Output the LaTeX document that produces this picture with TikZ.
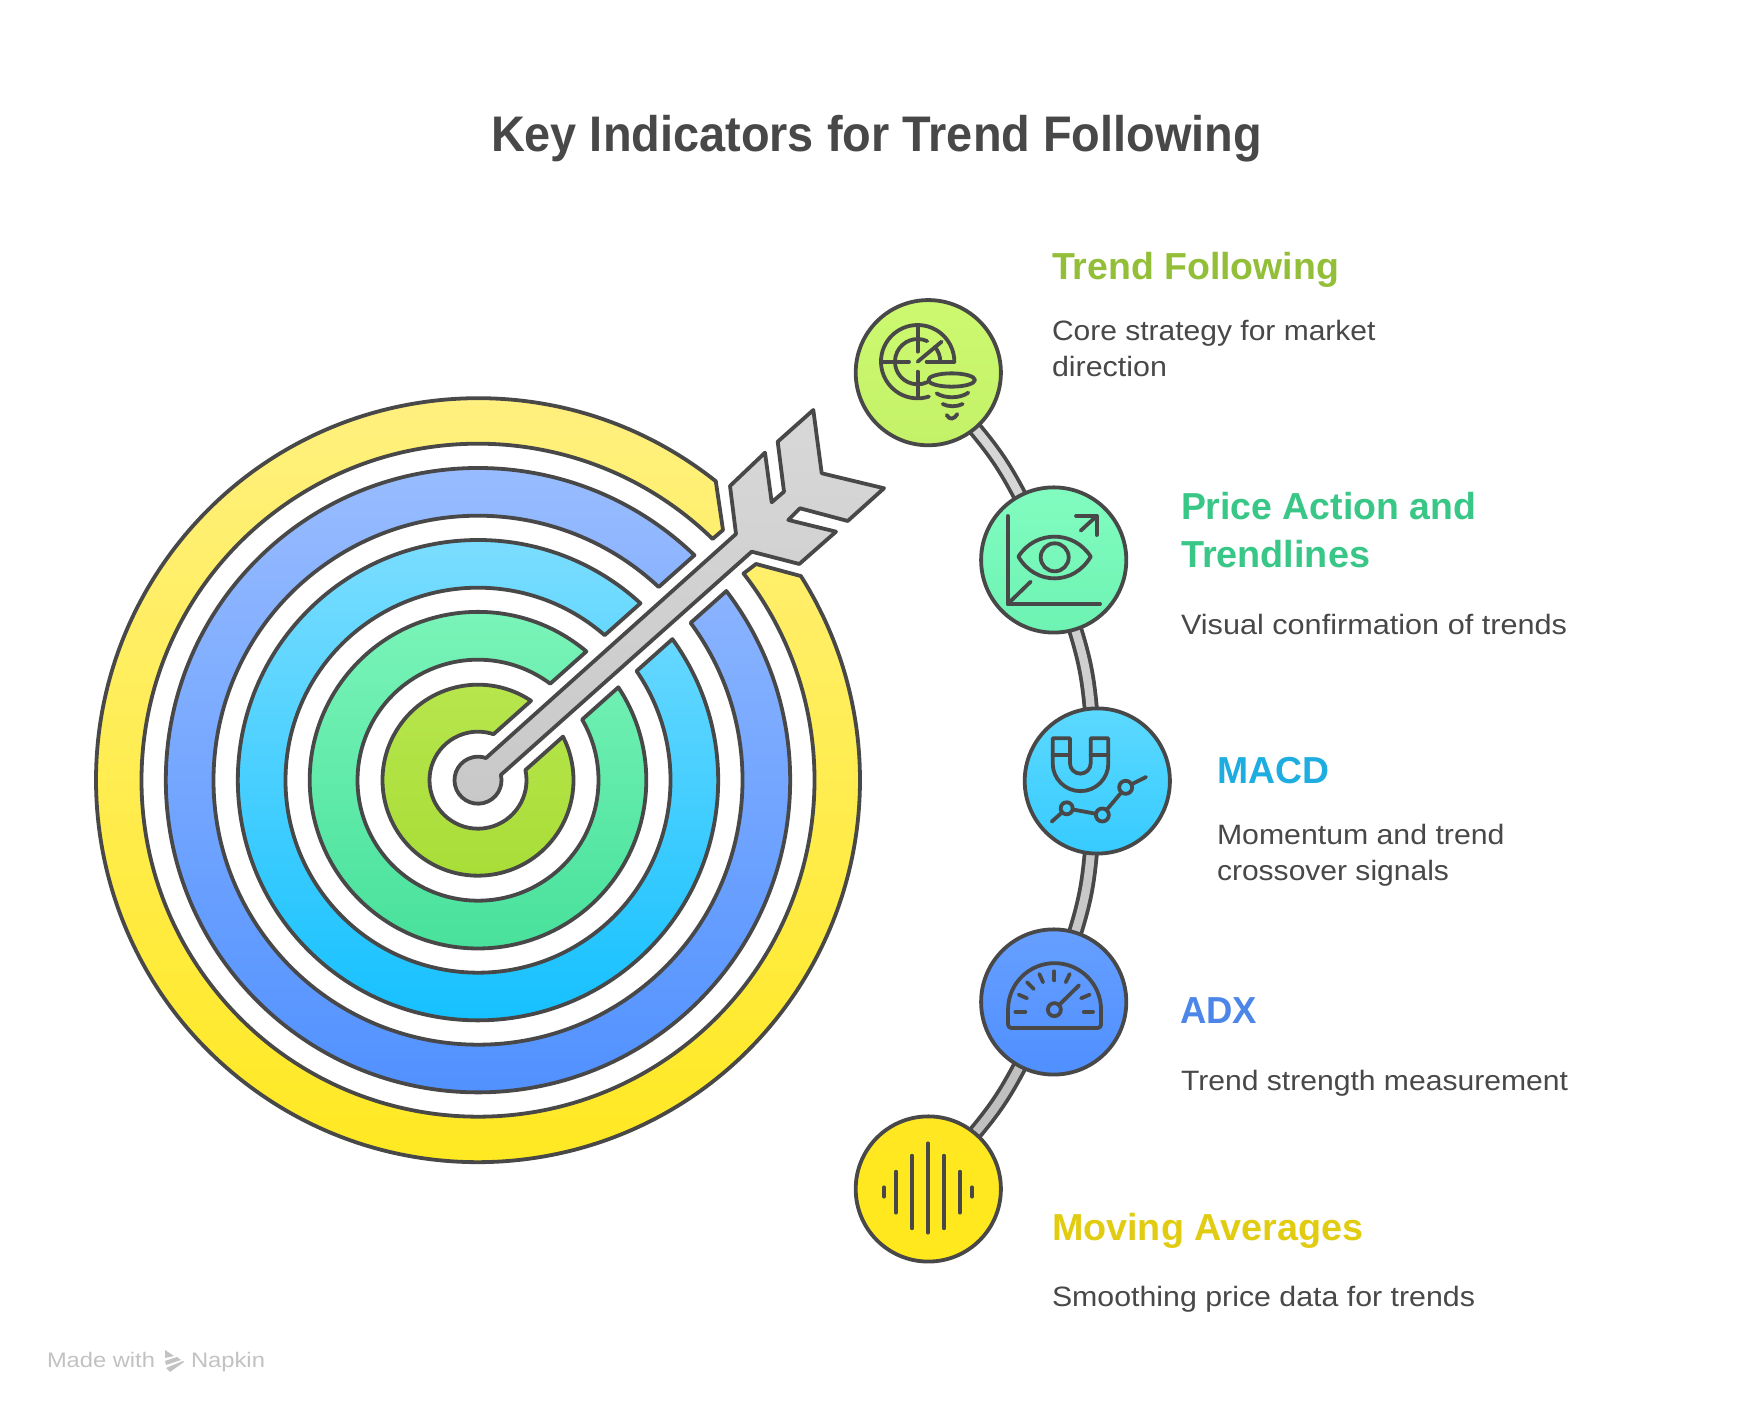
\documentclass[tikz,border=0pt]{standalone}
\usepackage{graphicx}
\usepackage{fontspec}
\setmainfont{Liberation Sans}
\usetikzlibrary{calc}
\pgfdeclarelayer{conn}
\pgfsetlayers{conn,main}
\definecolor{ink}{HTML}{484848}
\definecolor{footgray}{HTML}{C2C2C2}
\definecolor{h1}{HTML}{92BF37}
\definecolor{h2}{HTML}{38C786}
\definecolor{h3}{HTML}{1EADE0}
\definecolor{h4}{HTML}{4C86E8}
\definecolor{h5}{HTML}{E2CC12}
\definecolor{c1t}{HTML}{CCF96F}
\definecolor{c1b}{HTML}{C3F168}
\definecolor{c2t}{HTML}{82FCC0}
\definecolor{c2b}{HTML}{6DF3B3}
\definecolor{c3t}{HTML}{5CD9FF}
\definecolor{c3b}{HTML}{36CBFF}
\definecolor{c4t}{HTML}{669FFF}
\definecolor{c4b}{HTML}{4F8FFF}
\definecolor{c5t}{HTML}{FFE822}
\definecolor{c5b}{HTML}{FFE81C}
\definecolor{l1}{HTML}{D6D6D6}
\definecolor{l2}{HTML}{CFCFCF}
\definecolor{l3}{HTML}{C8C8C8}
\definecolor{l4}{HTML}{C0C0C0}
\newcommand{\fitw}[2]{\resizebox{\dimexpr #1pt/2\relax}{\height}{#2}}
\tikzset{
  outl/.style={draw=ink,line width=1.9pt,line join=round},
  iconline/.style={draw=ink,line width=1.9pt,line cap=round,line join=round},
  iconscope/.style={x=0.16667pt,y=0.16667pt},
  badge/.style={circle,minimum size=72.6pt,inner sep=0pt,outer sep=0pt,draw=ink,line width=1.9pt},
  link/.style={draw=ink,line width=1.9pt,double=#1,double distance=4.2pt},
  dot/.style={circle,draw=ink,line width=1.9pt,inner sep=0pt,outer sep=0pt,minimum size=#1},
  lab/.style={anchor=base west,inner sep=0pt,outer sep=0pt},
  headlab/.style={lab,font=\fontsize{18.8pt}{22pt}\selectfont\bfseries},
  bodylab/.style={lab,font=\fontsize{14pt}{17pt}\selectfont,text=ink},
  footlab/.style={lab,font=\fontsize{10.5pt}{12pt}\selectfont,text=footgray},
}
\begin{document}
\begin{tikzpicture}[x=0.5pt,y=0.5pt]
\useasboundingbox (0,0) rectangle (1750,1416);
\begin{pgfonlayer}{conn}
\fill[white] (0,0) rectangle (1750,1416);
\end{pgfonlayer}

% title
\node[lab,font=\fontsize{25pt}{30pt}\selectfont\bfseries,text=ink] (title) at (491,1264) {\fitw{771}{Key Indicators for Trend Following}};

% target
\begin{scope}[shift={(478,635.8)}]
\def\ang{41.7}
\foreach \ri/\ro/\ct/\cb in {48.5/95.5/B7E64E/A8DD36,120.5/168.3/7DF5BA/45E09A,192.5/240.2/80DFFF/10BFFF,264.5/312.2/9CBEFF/4D8FFF}{
  \pgfmathsetmacro{\ao}{asin(24/\ro)}
  \pgfmathsetmacro{\ai}{asin(24/\ri)}
  \definecolor{ringtop}{HTML}{\ct}
  \definecolor{ringbot}{HTML}{\cb}
  \path[outl,top color=ringtop,bottom color=ringbot]
    (\ang+\ao:\ro) arc[start angle=\ang+\ao,end angle=360+\ang-\ao,radius=\ro]
    -- (\ang-\ai:\ri) arc[start angle=360+\ang-\ai,end angle=\ang+\ai,radius=\ri] -- cycle;
}
\definecolor{ringtop}{HTML}{FFF185}
\definecolor{ringbot}{HTML}{FFE81C}
\path[outl,top color=ringtop,bottom color=ringbot]
  (51.5:382) arc[start angle=51.5,end angle=392.3,radius=382]
  -- (278,216.2) -- (37.9:336.5) arc[start angle=397.9,end angle=45.8,radius=336.5]
  -- (245,250.2) -- cycle;
% arrow
\definecolor{ringtop}{HTML}{D8D8D8}
\definecolor{ringbot}{HTML}{C8C8C8}
\path[outl,top color=ringtop,bottom color=ringbot]
  (70.3:23.5) -- (258,246.2) -- (252,294.2) -- (287,327.5) -- (293.7,277.9) -- (306,288.5)
  -- (299.7,338.5) -- (335.3,370.2) -- (343.7,306.9) -- (406,291.9) -- (369.7,259.2)
  -- (322,271.9) -- (310.3,260.2) -- (358,248.5) -- (321.3,216.2) -- (273.7,228.5)
  -- (13.1:23.5) arc[start angle=13.1,end angle=-289.7,radius=23.5] -- cycle;
\end{scope}

% badges
\node[badge,top color=c1t,bottom color=c1b] (c1) at (928.3,1043.3) {};
\node[badge,top color=c2t,bottom color=c2b] (c2) at (1053.7,856) {};
\node[badge,top color=c3t,bottom color=c3b] (c3) at (1097.3,635) {};
\node[badge,top color=c4t,bottom color=c4b] (c4) at (1053.7,414) {};
\node[badge,top color=c5t,bottom color=c5b] (c5) at (928.3,227) {};

% connectors
\begin{pgfonlayer}{conn}
\draw[link=l1] (c1) to[bend left=6] (c2);
\draw[link=l2] (c2) to[bend left=6] (c3);
\draw[link=l3] (c3) to[bend left=6] (c4);
\draw[link=l4] (c4) to[bend left=6] (c5);
\end{pgfonlayer}

% icon 1: radar and funnel
\begin{scope}[shift={(c1.center)},iconscope]
\begin{scope}[shift={(-32,33)}]
\draw[iconline] (110,0) arc[start angle=0,end angle=288,radius=110];
\draw[iconline] (65:68) arc[start angle=65,end angle=295,radius=68];
\draw[iconline] (41:68) arc[start angle=41,end angle=0,radius=68];
\draw[iconline] (0,110) -- (0,30);
\draw[iconline] (0,-30) -- (0,-107);
\draw[iconline] (-108,0) -- (-26,0);
\draw[iconline] (27,0) -- (110,0);
\draw[iconline] (0,0) -- (72,60);
\end{scope}
\draw[iconline] (70,-22) ellipse[x radius=70,y radius=20];
\draw[iconline] (25,-62) .. controls (50,-78) and (95,-78) .. (120,-60);
\draw[iconline] (43,-94) .. controls (60,-103) and (85,-103) .. (103,-94);
\draw[iconline] (55,-127) .. controls (65,-142) and (75,-142) .. (87,-124);
\end{scope}

% icon 2: eye on chart
\begin{scope}[shift={(c2.center)},iconscope]
\draw[iconline] (-138,132) -- (-138,-132) -- (139,-132);
\draw[iconline] (-138,-132) -- (-69,-65);
\draw[iconline] (81,88) -- (129,132);
\draw[iconline] (67,132) -- (129,132) -- (129,75);
\draw[iconline] (-106,10) .. controls (-55,90) and (60,90) .. (111,10) .. controls (60,-77) and (-55,-77) .. cycle;
\draw[iconline] (3,8) circle[radius=42];
\end{scope}

% icon 3: magnet and line chart
\begin{scope}[shift={(c3.center)},xshift=-1.15pt,iconscope]
\draw[iconline] (-127,128) -- (-127,53) arc[start angle=180,end angle=360,radius=83.5] -- (40,128) -- (-13,128) -- (-13,53) arc[start angle=0,end angle=-180,radius=31] -- (-75,128) -- cycle;
\draw[iconline] (-127,78) -- (-75,78);
\draw[iconline] (-13,78) -- (40,78);
\node[dot=6pt] (p1) at (-85,-82) {};
\node[dot=6.5pt] (p2) at (22,-102) {};
\node[dot=6.5pt] (p3) at (92,-19) {};
\coordinate (p0) at (-130,-122);
\coordinate (p4) at (153,12);
\draw[iconline] (p0) -- (p1);
\draw[iconline] (p1) -- (p2);
\draw[iconline] (p2) -- (p3);
\draw[iconline] (p3) -- (p4);
\end{scope}

% icon 4: gauge
\begin{scope}[shift={(c4.center)},iconscope]
\draw[iconline] (-137,-23) arc[start angle=180,end angle=0,radius=139.5] -- (142,-68) arc[start angle=0,end angle=-90,radius=10] -- (-127,-78) arc[start angle=-90,end angle=-180,radius=10] -- cycle;
\draw[iconline] (-115,-29) -- (-85,-29);
\draw[iconline] (90,-29) -- (118,-29);
\draw[iconline] (-105,22) -- (-80,11);
\draw[iconline] (-80,59) -- (-60,39);
\draw[iconline] (-43,84) -- (-32,59);
\draw[iconline] (2,92) -- (2,65);
\draw[iconline] (48,84) -- (36,59);
\draw[iconline] (108,22) -- (82,11);
\node[dot=6.5pt] (g1) at (2,-23) {};
\coordinate (g2) at (76,50);
\draw[iconline] (g1) -- (g2);
\end{scope}

% icon 5: sound bars
\begin{scope}[shift={(c5.center)},iconscope]
\foreach \bx/\bt/\bb in {-133/5/-23,-97/52/-71,-49/100/-118,-1/137/-131,47/100/-118,95/52/-71,131/5/-23}{
  \draw[iconline] (\bx,\bt) -- (\bx,\bb);
}
\end{scope}

% labels
\node[headlab,text=h1] (t1) at (1052,1136) {\fitw{287}{Trend Following}};
\node[bodylab] (d1a) at (1052,1075.3) {\fitw{323.5}{Core strategy for market}};
\node[bodylab] (d1b) at (1052,1039.3) {\fitw{115}{direction}};
\node[headlab,text=h2] (t2) at (1181,896) {\fitw{295}{Price Action and}};
\node[headlab,text=h2] (t2b) at (1181,848) {\fitw{189}{Trendlines}};
\node[bodylab] (d2) at (1181,781) {\fitw{386}{Visual confirmation of trends}};
\node[headlab,text=h3] (t3) at (1217,632) {\fitw{112}{MACD}};
\node[bodylab] (d3a) at (1217,571) {\fitw{287.5}{Momentum and trend}};
\node[bodylab] (d3b) at (1217,535) {\fitw{232}{crossover signals}};
\node[headlab,text=h4] (t4) at (1180,392) {\fitw{77}{ADX}};
\node[bodylab] (d4) at (1181,325) {\fitw{387}{Trend strength measurement}};
\node[headlab,text=h5] (t5) at (1052,175) {\fitw{311}{Moving Averages}};
\node[bodylab] (d5) at (1052,109) {\fitw{423}{Smoothing price data for trends}};

% footer
\node[footlab] (f1) at (47,48) {\fitw{108}{Made with}};
\node[footlab] (f2) at (191,48) {\fitw{74}{Napkin}};
\fill[footgray] (165,66) -- (174,60) -- (165,58) -- cycle;
\fill[footgray] (165,55) -- (177,59) -- (181,56) -- (166,51) -- cycle;
\fill[footgray] (166,48) -- (183,55) -- (184,54) -- (170,44) -- cycle;
\end{tikzpicture}
\end{document}
